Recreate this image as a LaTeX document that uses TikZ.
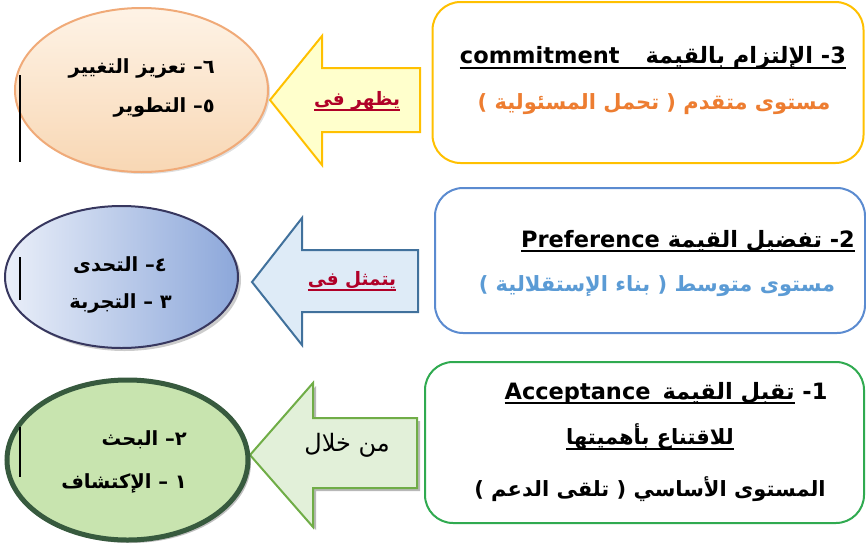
\documentclass[tikz,border=0pt]{standalone}
\usepackage{fontspec}
\setmainfont{DejaVu Sans}
\newfontfamily\arabicfont[Script=Arabic]{DejaVu Sans}
\newfontfamily\latinfont{DejaVu Sans}
\TeXXeTstate=1
\usetikzlibrary{shapes.geometric,shadows}
\definecolor{goldline}{RGB}{255,192,0}
\definecolor{goldfill}{RGB}{255,255,204}
\definecolor{levelorange}{RGB}{237,125,49}
\definecolor{blueline}{RGB}{91,139,208}
\definecolor{levelblue}{RGB}{91,155,213}
\definecolor{greenline}{RGB}{48,170,80}
\definecolor{arrowblue}{RGB}{65,113,156}
\definecolor{arrowbluefill}{RGB}{222,235,247}
\definecolor{arrowgreen}{RGB}{112,173,71}
\definecolor{arrowgreenfill}{RGB}{226,240,217}
\definecolor{labelred}{RGB}{176,0,40}
\definecolor{peachline}{RGB}{240,170,120}
\definecolor{peachtop}{RGB}{254,243,230}
\definecolor{peachbottom}{RGB}{248,215,180}
\definecolor{navyline}{RGB}{55,55,95}
\definecolor{bluelight}{RGB}{234,239,249}
\definecolor{bluedark}{RGB}{140,167,218}
\definecolor{darkgreen}{RGB}{55,90,62}
\definecolor{mossfill}{RGB}{200,228,175}
\newcommand{\arb}{\arabicfont\bfseries}
\newcommand{\ulr}[1]{\setbox0=\hbox{#1}\rlap{\rule[-5pt]{\wd0}{1.6pt}}\box0}
\newcommand{\lat}[1]{\hbox{\latinfont\bfseries #1}}

\begin{document}
\begin{tikzpicture}[x=1pt,y=-1pt,
  box/.style={draw, rounded corners=28pt, line width=2pt, fill=white},
  boxtext/.style={font=\arb\fontsize{21}{25}\selectfont, inner sep=0pt},
  boxtitle/.style={font=\arb\fontsize{22.5}{27}\selectfont, inner sep=0pt},
  ovaltext/.style={font=\arb\fontsize{19.5}{23}\selectfont, inner sep=0pt, anchor=east},
  arrowlabel/.style={font=\arb\fontsize{18.5}{22}\selectfont, text=labelred, inner sep=0pt},
  cursor/.style={line width=2pt}]
\useasboundingbox (0,0) rectangle (866,554);

% levels
\node[box, draw=goldline, minimum width=431, minimum height=161] (commitbox) at (648,82.5) {};
\node[box, draw=blueline, minimum width=430, minimum height=145] (prefbox) at (650,260.5) {};
\node[box, draw=greenline, minimum width=439, minimum height=161] (acceptbox) at (644.5,442.5) {};

\node[boxtitle] (commitT) at (653,58) {\ulr{\beginR\lat{-3}\ الإلتزام بالقيمة\hspace{26pt}\beginL\lat{commitment}\endL\endR}};
\node[boxtext, text=levelorange] (commitL) at (654,104) {\beginR مستوى متقدم \lat{)} تحمل المسئولية \lat{(}\endR};
\node[boxtitle] (prefT) at (688,241) {\ulr{\beginR\lat{-2}\ تفضيل القيمة \beginL\lat{Preference}\endL\endR}};
\node[boxtext, text=levelblue] (prefL) at (657,286) {\beginR مستوى متوسط \lat{)} بناء الإستقلالية \lat{(}\endR};
\node[boxtitle] (acceptT) at (666,393) {\beginR\lat{-1}\ \ulr{\beginR تقبل القيمة\hspace{12pt}\beginL\lat{Acceptance}\endL\endR}\endR};
\node[boxtext] (acceptU) at (650,437) {\ulr{\beginR للاقتناع بأهميتها\endR}};
\node[boxtext] (acceptL) at (650,489) {\beginR المستوى الأساسي \lat{)} تلقى الدعم \lat{(}\endR};

% arrows
\draw[line width=2pt, draw=goldline, fill=goldfill] (270,100) -- (322,36) -- (322,68) -- (420,68) -- (420,132) -- (322,132) -- (322,165) -- cycle;
\draw[line width=2pt, draw=arrowblue, fill=arrowbluefill] (252,282) -- (302,218) -- (302,250) -- (418,250) -- (418,312) -- (302,312) -- (302,345) -- cycle;
\draw[line width=2pt, draw=arrowgreen, fill=arrowgreenfill, drop shadow={shadow xshift=3pt, shadow yshift=-3pt, fill=gray!70, opacity=.8}] (250,455) -- (313,383) -- (313,418) -- (417,418) -- (417,488) -- (313,488) -- (313,527) -- cycle;
\node[arrowlabel] (showsL) at (357,101) {\ulr{\beginR يظهر فى\endR}};
\node[arrowlabel] (formL) at (352,281) {\ulr{\beginR يتمثل فى\endR}};
\node[arrowlabel, text=black, font=\arabicfont\fontsize{24}{28}\selectfont] (throughL) at (347,445) {\beginR من خلال\endR};

% ovals
\node[ellipse, draw=peachline, line width=2pt, top color=peachtop, bottom color=peachbottom, minimum width=253, minimum height=164, drop shadow={shadow xshift=2pt, shadow yshift=-2pt, opacity=.25}] (growth) at (141.5,90) {};
\node[ellipse, draw=navyline, line width=2pt, left color=bluelight, right color=bluedark, minimum width=233, minimum height=142, drop shadow={shadow xshift=3pt, shadow yshift=-3pt, opacity=.4}] (trial) at (121.5,277) {};
\node[ellipse, draw=darkgreen, line width=5pt, fill=mossfill, minimum width=241, minimum height=160, drop shadow={shadow xshift=3pt, shadow yshift=-3pt, opacity=.5}] (search) at (127.5,460) {};

\node[ovaltext] (g6) at (215,68) {\beginR\hbox{٦}\hbox{–}\ تعزيز التغيير\endR};
\node[ovaltext] (g5) at (215,107) {\beginR\hbox{٥}\hbox{–}\ التطوير\endR};
\node[ovaltext] (t4) at (167,265) {\beginR\hbox{٤}\hbox{–}\ التحدى\endR};
\node[ovaltext] (t3) at (172,303) {\beginR\hbox{٣}\ \hbox{–}\ التجربة\endR};
\node[ovaltext] (s2) at (187,440) {\beginR\hbox{٢}\hbox{–}\ البحث\endR};
\node[ovaltext] (s1) at (187,483) {\beginR\hbox{١}\ \hbox{–}\ الإكتشاف\endR};

\draw[cursor] (20,75) -- (20,162) (20,257) -- (20,300) (20,427) -- (20,477);
\end{tikzpicture}
\end{document}
